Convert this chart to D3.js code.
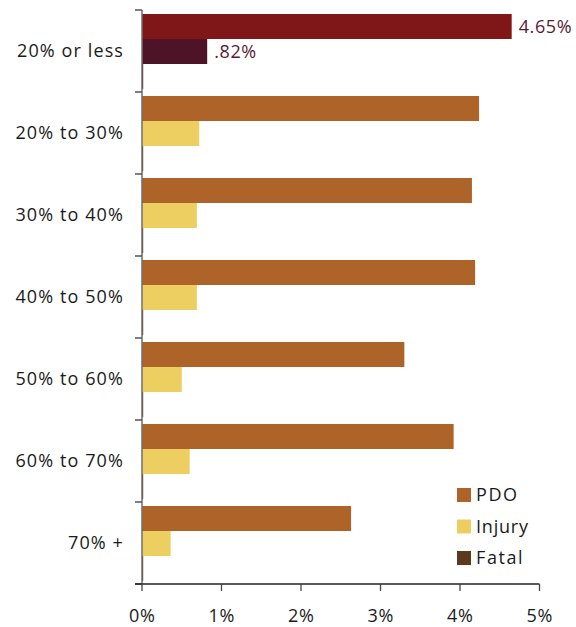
<!DOCTYPE html>
<html><head><meta charset="utf-8">
<script src="https://cdn.jsdelivr.net/npm/d3@7"></script>
<style>body{margin:0;background:#fff}svg{display:block}text{font-family:"Open Sans",sans-serif;fill:#1a1a1a}</style>
</head><body><svg id="c" width="576" height="627"></svg>
<script>
const categories = ["20% or less","20% to 30%","30% to 40%","40% to 50%","50% to 60%","60% to 70%","70% +"];
const seriesNames = ["PDO","Injury","Fatal"];
const pdo    = [4.65, 4.24, 4.15, 4.19, 3.30, 3.92, 2.63];
const injury = [0.82, 0.72, 0.69, 0.69, 0.50, 0.60, 0.36];
const fatal  = [0.015, 0.015, 0.015, 0.015, 0.015, 0.015, 0.015];
const xTicks = [0,1,2,3,4,5];
const xTickLabels = ["0%","1%","2%","3%","4%","5%"];
const valueLabels = ["4.65%", ".82%"];
const colors = {PDO:"#ae6428", Injury:"#edce60", Fatal:"#5c3a1e"};
const highlightColors = {PDO:"#7f1719", Injury:"#4d1428", Fatal:"#4d1428"};

const svg = d3.select("#c");
const x = d3.scaleLinear().domain([0,5]).range([142,539.5]);
const y = d3.scaleBand().domain(categories).range([10,584]);
const ys = d3.scaleBand().domain(seriesNames).range([4,79]);
const vals = {PDO:pdo, Injury:injury, Fatal:fatal};

const g = svg.append("g");
categories.forEach((c,i)=>{
  seriesNames.forEach(s=>{
    const v = vals[s][i];
    g.append("rect")
      .attr("x", x(0)).attr("y", y(c)+ys(s))
      .attr("width", x(v)-x(0)).attr("height", ys.bandwidth())
      .attr("fill", i===0 ? highlightColors[s] : colors[s]);
  });
});

// value labels for first category
[["PDO",pdo[0],valueLabels[0]],["Injury",injury[0],valueLabels[1]]].forEach(([s,v,t])=>{
  svg.append("text").attr("x", x(v)+7).attr("y", y(categories[0])+ys(s)+ys.bandwidth()/2)
    .attr("dy","0.35em").style("font-size","18px").style("letter-spacing","0.6px")
    .style("fill","#5a1a33").text(t);
});

// y axis
svg.append("line").attr("x1",x(0)).attr("x2",x(0)).attr("y1",y.range()[0]).attr("y2",y.range()[1])
  .attr("stroke","#6e6e6e").attr("stroke-width",1.5);
const bounds = categories.map(c=>y(c)).concat([y.range()[1]]);
bounds.forEach(b=>{
  svg.append("line").attr("x1",x(0)-7).attr("x2",x(0)).attr("y1",b).attr("y2",b)
    .attr("stroke","#555").attr("stroke-width",1.5);
});
categories.forEach(c=>{
  svg.append("text").attr("x",124).attr("y",y(c)+y.bandwidth()/2).attr("dy","0.35em")
    .attr("text-anchor","end").style("font-size","18px").style("letter-spacing","1.1px").text(c);
});

// x axis
svg.append("line").attr("x1",x(0)-7).attr("x2",x(5)).attr("y1",584).attr("y2",584)
  .attr("stroke","#222").attr("stroke-width",1.3);
xTicks.forEach((t,i)=>{
  svg.append("line").attr("x1",x(t)).attr("x2",x(t)).attr("y1",584).attr("y2",591)
    .attr("stroke","#444").attr("stroke-width",1.3);
  svg.append("text").attr("x",x(t)+0.4).attr("y",622).attr("text-anchor","middle")
    .style("font-size","18px").style("letter-spacing","0.8px").text(xTickLabels[i]);
});

// legend
seriesNames.forEach((s,i)=>{
  const ly = 488 + i*31.5;
  svg.append("rect").attr("x",457).attr("y",ly).attr("width",14).attr("height",14).attr("fill",colors[s]);
  svg.append("text").attr("x",476).attr("y",ly+7).attr("dy","0.35em").style("font-size","18px")
    .style("letter-spacing", s==="Injury" ? "0.8px" : "1.6px").text(s);
});
</script></body></html>
